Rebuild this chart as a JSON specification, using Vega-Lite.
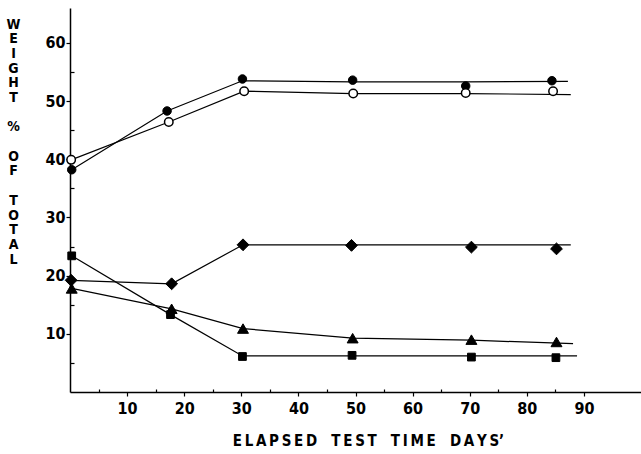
{
  "$schema": "https://vega.github.io/schema/vega-lite/v6.json",
  "width": 571,
  "height": 384,
  "autosize": {"type": "none"},
  "padding": {"left": 70, "top": 8, "right": 0, "bottom": 62},
  "background": "white",
  "config": {"view": {"stroke": null}, "font": "DejaVu Sans Condensed"},
  "datasets": {
    "markers": [
      {"series": "filled circle", "day": 0.3, "value": 38.2},
      {"series": "filled circle", "day": 17.0, "value": 48.3},
      {"series": "filled circle", "day": 30.2, "value": 53.8},
      {"series": "filled circle", "day": 49.5, "value": 53.6},
      {"series": "filled circle", "day": 69.3, "value": 52.6},
      {"series": "filled circle", "day": 84.4, "value": 53.5},
      {"series": "open circle", "day": 0.2, "value": 39.9},
      {"series": "open circle", "day": 17.3, "value": 46.4},
      {"series": "open circle", "day": 30.5, "value": 51.7},
      {"series": "open circle", "day": 49.6, "value": 51.3},
      {"series": "open circle", "day": 69.3, "value": 51.4},
      {"series": "open circle", "day": 84.6, "value": 51.7},
      {"series": "diamond", "day": 0.2, "value": 19.2},
      {"series": "diamond", "day": 17.8, "value": 18.6},
      {"series": "diamond", "day": 30.3, "value": 25.3},
      {"series": "diamond", "day": 49.3, "value": 25.2},
      {"series": "diamond", "day": 70.3, "value": 24.9},
      {"series": "diamond", "day": 85.2, "value": 24.6},
      {"series": "triangle", "day": 0.3, "value": 17.8},
      {"series": "triangle", "day": 17.8, "value": 14.3},
      {"series": "triangle", "day": 30.3, "value": 10.9},
      {"series": "triangle", "day": 49.5, "value": 9.25},
      {"series": "triangle", "day": 70.3, "value": 9.0},
      {"series": "triangle", "day": 85.2, "value": 8.6},
      {"series": "square", "day": 0.3, "value": 23.4},
      {"series": "square", "day": 17.6, "value": 13.3},
      {"series": "square", "day": 30.2, "value": 6.1},
      {"series": "square", "day": 49.4, "value": 6.3},
      {"series": "square", "day": 70.3, "value": 6.0},
      {"series": "square", "day": 85.1, "value": 5.9}
    ],
    "lines": [
      {"series": "filled circle", "day": 0.3, "value": 38.2},
      {"series": "filled circle", "day": 17.0, "value": 48.3},
      {"series": "filled circle", "day": 30.2, "value": 53.5},
      {"series": "filled circle", "day": 49.5, "value": 53.3},
      {"series": "filled circle", "day": 69.3, "value": 53.3},
      {"series": "filled circle", "day": 87.2, "value": 53.4},
      {"series": "open circle", "day": 0.2, "value": 39.9},
      {"series": "open circle", "day": 17.3, "value": 46.4},
      {"series": "open circle", "day": 30.5, "value": 51.7},
      {"series": "open circle", "day": 49.6, "value": 51.3},
      {"series": "open circle", "day": 69.3, "value": 51.3},
      {"series": "open circle", "day": 87.7, "value": 51.1},
      {"series": "diamond", "day": 0.2, "value": 19.2},
      {"series": "diamond", "day": 17.8, "value": 18.6},
      {"series": "diamond", "day": 30.3, "value": 25.3},
      {"series": "diamond", "day": 49.3, "value": 25.3},
      {"series": "diamond", "day": 70.3, "value": 25.3},
      {"series": "diamond", "day": 87.7, "value": 25.3},
      {"series": "triangle", "day": 0.3, "value": 17.8},
      {"series": "triangle", "day": 17.8, "value": 14.3},
      {"series": "triangle", "day": 30.3, "value": 10.9},
      {"series": "triangle", "day": 49.5, "value": 9.25},
      {"series": "triangle", "day": 70.3, "value": 8.9},
      {"series": "triangle", "day": 88.1, "value": 8.3},
      {"series": "square", "day": 0.3, "value": 23.4},
      {"series": "square", "day": 17.6, "value": 13.3},
      {"series": "square", "day": 30.2, "value": 6.2},
      {"series": "square", "day": 49.4, "value": 6.2},
      {"series": "square", "day": 70.3, "value": 6.2},
      {"series": "square", "day": 88.8, "value": 6.2}
    ]
  },
  "encoding": {
    "x": {
      "field": "day",
      "type": "quantitative",
      "scale": {"domain": [0, 100], "nice": false, "zero": false},
      "axis": {
        "values": [5, 10, 15, 20, 25, 30, 35, 40, 45, 50, 55, 60, 65, 70, 75, 80, 85, 90],
        "labelExpr": "datum.value % 10 === 0 ? datum.label : ''",
        "grid": false,
        "domainColor": "black",
        "domainWidth": 1.5,
        "tickColor": "black",
        "tickWidth": 1.2,
        "tickSize": {"condition": {"test": "datum.value % 10 === 0", "value": 4}, "value": -3},
        "labelFont": "DejaVu Sans Condensed",
        "labelFontSize": 16,
        "labelFontWeight": "bold",
        "labelColor": "black",
        "labelPadding": 4,
        "title": "E\u2009L\u2009A\u2009P\u2009S\u2009E\u2009D\u00a0\u00a0\u00a0T\u2009E\u2009S\u2009T\u00a0\u00a0\u00a0T\u2009I\u2009M\u2009E\u00a0\u00a0\u00a0D\u2009A\u2009Y\u2009S\u2019",
        "titleFont": "DejaVu Sans Condensed",
        "titleFontSize": 15,
        "titleFontWeight": "bold",
        "titleColor": "black",
        "titleX": 298,
        "titleY": 48,
        "titleAlign": "center",
        "titleBaseline": "middle"
      }
    },
    "y": {
      "field": "value",
      "type": "quantitative",
      "scale": {"domain": [0, 66], "nice": false, "zero": true},
      "axis": {
        "values": [5, 10, 15, 20, 25, 30, 35, 40, 45, 50, 55, 60],
        "labelExpr": "datum.value % 10 === 0 ? datum.label : ''",
        "grid": false,
        "domainColor": "black",
        "domainWidth": 1.5,
        "tickColor": "black",
        "tickWidth": 1.2,
        "tickSize": {"condition": {"test": "datum.value % 10 === 0", "value": 4}, "value": -4},
        "labelFont": "DejaVu Sans Condensed",
        "labelFontSize": 16,
        "labelFontWeight": "bold",
        "labelColor": "black",
        "labelPadding": 1,
        "title": ["W", "E", "I", "G", "H", "T", "\u2800", "%", "\u2800", "O", "F", "\u2800", "T", "O", "T", "A", "L"],
        "titleFont": "DejaVu Sans Condensed",
        "titleFontSize": 14,
        "titleFontWeight": "bold",
        "titleColor": "black",
        "titleAngle": 0,
        "titleX": -57,
        "titleY": 9,
        "titleAlign": "center",
        "titleBaseline": "top",
        "titleLineHeight": 14.7
      }
    }
  },
  "layer": [
    {
      "data": {"name": "lines"},
      "mark": {"type": "line", "color": "black", "strokeWidth": 1.2},
      "encoding": {"detail": {"field": "series"}}
    },
    {
      "data": {"name": "markers"},
      "transform": [{"filter": "datum.series === 'filled circle'"}],
      "mark": {"type": "point", "shape": "circle", "size": 72, "filled": true, "fill": "black", "stroke": "black", "strokeWidth": 1, "opacity": 1}
    },
    {
      "data": {"name": "markers"},
      "transform": [{"filter": "datum.series === 'open circle'"}],
      "mark": {"type": "point", "shape": "circle", "size": 72, "fill": "white", "fillOpacity": 1, "stroke": "black", "strokeWidth": 1.5, "opacity": 1}
    },
    {
      "data": {"name": "markers"},
      "transform": [{"filter": "datum.series === 'diamond'"}],
      "mark": {"type": "point", "shape": "diamond", "size": 140, "filled": true, "fill": "black", "stroke": "black", "strokeWidth": 1, "opacity": 1}
    },
    {
      "data": {"name": "markers"},
      "transform": [{"filter": "datum.series === 'triangle'"}],
      "mark": {"type": "point", "shape": "triangle-up", "size": 120, "filled": true, "fill": "black", "stroke": "black", "strokeWidth": 1, "opacity": 1}
    },
    {
      "data": {"name": "markers"},
      "transform": [{"filter": "datum.series === 'square'"}],
      "mark": {"type": "point", "shape": "square", "size": 60, "filled": true, "fill": "black", "stroke": "black", "strokeWidth": 1, "opacity": 1}
    }
  ]
}
